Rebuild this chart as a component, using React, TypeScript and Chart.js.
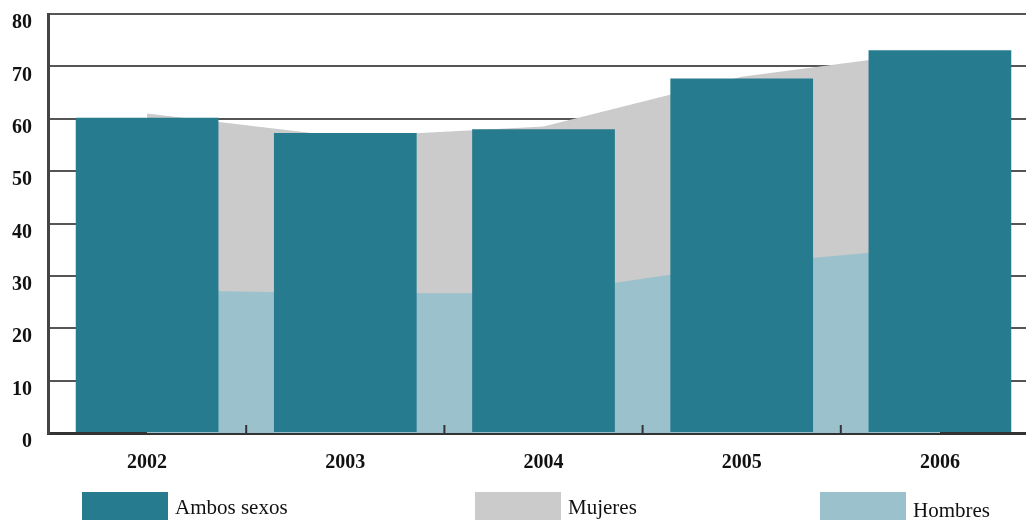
import React, { useEffect, useRef } from "react";
import { Chart, registerables } from "chart.js";

Chart.register(...registerables);

const years = ["2002", "2003", "2004", "2005", "2006"];
const ambosSexos = [60.2, 57.3, 58.0, 67.7, 73.1];
const mujeres = [61.0, 56.5, 58.5, 68.0, 73.0];
const hombres = [27.3, 26.7, 26.7, 32.2, 35.6];
const yTicks = [0, 10, 20, 30, 40, 50, 60, 70, 80];

const TEAL = "#267B8E";
const GREY = "#CBCBCB";
const LIGHT = "#9BC1CC";
const FONT = "'Liberation Serif', 'Times New Roman', serif";

const boundaryTicks = {
  id: "boundaryTicks",
  afterDatasetsDraw(chart: any) {
    const { ctx, chartArea } = chart;
    const x = chart.scales.x;
    ctx.save();
    ctx.strokeStyle = "#333";
    ctx.lineWidth = 2;
    for (let i = 0; i < years.length - 1; i++) {
      const px = (x.getPixelForValue(i) + x.getPixelForValue(i + 1)) / 2;
      ctx.beginPath();
      ctx.moveTo(px, chartArea.bottom);
      ctx.lineTo(px, chartArea.bottom - 8);
      ctx.stroke();
    }
    ctx.restore();
  },
};

const customLegend = {
  id: "customLegend",
  afterDraw(chart: any) {
    const { ctx } = chart;
    const items = [
      { ds: 0, x: 82, ty: 508 },
      { ds: 1, x: 475, ty: 508 },
      { ds: 2, x: 820, ty: 511 },
    ];
    ctx.save();
    ctx.font = `21px ${FONT}`;
    ctx.textBaseline = "middle";
    ctx.textAlign = "left";
    for (const it of items) {
      const d = chart.data.datasets[it.ds];
      ctx.fillStyle = d.legendColor;
      ctx.fillRect(it.x, 492, 86, 30);
      ctx.fillStyle = "#111";
      ctx.fillText(d.label, it.x + 93, it.ty);
    }
    ctx.restore();
  },
};

export default function App() {
  const ref = useRef<HTMLCanvasElement>(null);
  useEffect(() => {
    if (!ref.current) return;
    const chart = new Chart(ref.current, {
      type: "bar",
      data: {
        labels: years,
        datasets: [
          {
            type: "bar",
            label: "Ambos sexos",
            data: ambosSexos,
            backgroundColor: TEAL,
            legendColor: TEAL,
            order: 0,
            barPercentage: 0.72,
            categoryPercentage: 1,
          } as any,
          {
            type: "line",
            label: "Mujeres",
            data: mujeres,
            borderWidth: 0,
            borderColor: "rgba(0,0,0,0)",
            backgroundColor: GREY,
            legendColor: GREY,
            fill: "origin",
            pointRadius: 0,
            tension: 0,
            order: 2,
          } as any,
          {
            type: "line",
            label: "Hombres",
            data: hombres,
            borderWidth: 0,
            borderColor: "rgba(0,0,0,0)",
            backgroundColor: LIGHT,
            legendColor: LIGHT,
            fill: "origin",
            pointRadius: 0,
            tension: 0,
            order: 1,
          } as any,
        ],
      },
      options: {
        animation: false,
        responsive: false,
        maintainAspectRatio: false,
        layout: { padding: { top: 14, right: 6, left: 0, bottom: 0 } },
        plugins: {
          legend: { display: false },
          tooltip: { enabled: false },
        },
        scales: {
          x: {
            type: "category",
            offset: true,
            grid: { display: false, drawTicks: false },
            border: { display: true, color: "#333", width: 3 },
            ticks: {
              padding: 18,
              color: "#111",
              font: { family: FONT, size: 20, weight: "bold" },
            },
            afterFit: (s: any) => {
              s.height = 87;
              s.paddingLeft = 0;
              s.paddingRight = 0;
            },
          },
          y: {
            min: 0,
            max: 80,
            afterBuildTicks: (s: any) => {
              s.ticks = yTicks.map((v) => ({ value: v }));
            },
            grid: { color: "#555", lineWidth: 2, drawTicks: false },
            border: { display: true, color: "#444", width: 3 },
            ticks: {
              padding: 16,
              labelOffset: 9,
              color: "#111",
              font: { family: FONT, size: 20, weight: "bold" },
            },
            afterFit: (s: any) => {
              s.width = 48;
              s.paddingTop = 0;
              s.paddingBottom = 0;
            },
          },
        },
      } as any,
      plugins: [boundaryTicks, customLegend],
    });
    return () => chart.destroy();
  }, []);
  return (
    <div style={{ position: "fixed", left: 0, top: 0, width: 1045, height: 520, background: "#fff" }}>
      <canvas ref={ref} width={1045} height={520} style={{ display: "block" }} />
    </div>
  );
}
